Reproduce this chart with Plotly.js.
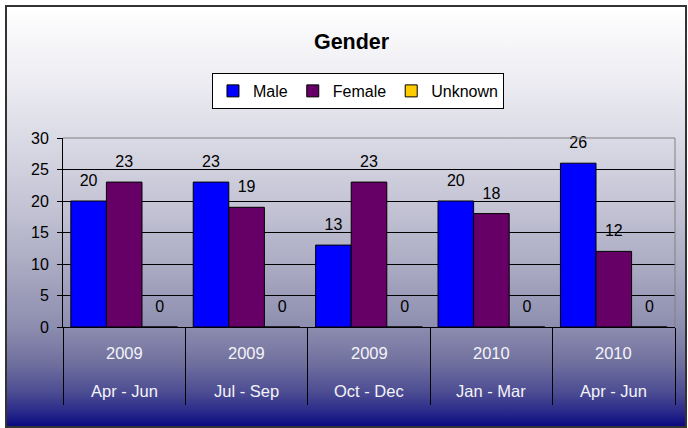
<!DOCTYPE html>
<html>
<head>
<meta charset="utf-8">
<script src="https://cdn.plot.ly/plotly-3.0.1.min.js"></script>
<style>
  html, body { margin: 0; padding: 0; background: #ffffff; }
  #wrap { position: relative; width: 688px; height: 428px; }
  #bg {
    position: absolute; left: 5px; top: 5px; width: 678px; height: 419px;
    border: 2px solid #333333;
    background: linear-gradient(to bottom, #ffffff 0%, #ececf2 18%, #d8d8e4 33%, #c0c0d2 50%, #a6a6c0 64%, #8e8eb0 76%, #70709f 85%, #4c4c93 92%, #26268a 97%, #0a0a80 100%);
  }
  #chart { position: absolute; left: 0; top: 0; width: 688px; height: 428px; }
</style>
</head>
<body>
<div id="wrap">
  <div id="bg"></div>
  <div id="chart"></div>
</div>
<script>
// ---- data ----
const years    = ["2009", "2009", "2009", "2010", "2010"];
const quarters = ["Apr - Jun", "Jul - Sep", "Oct - Dec", "Jan - Mar", "Apr - Jun"];
const male     = [20, 23, 13, 20, 26];
const female   = [23, 19, 23, 18, 12];
const unknown  = [0, 0, 0, 0, 0];
const yTicks   = [0, 5, 10, 15, 20, 25, 30];

// ---- build ----
const cats = years.map((y, i) => y + " " + quarters[i] + " #" + i);
const font = "Arial, 'Liberation Sans', sans-serif";
const GAP = 0.128;

function barTrace(name, vals, color) {
  return {
    type: "bar", name: name, x: cats, y: vals,
    marker: { color: color, line: { color: "#000000", width: 1 } },
    cliponaxis: false, hoverinfo: "skip"
  };
}
function labelTrace(name, vals) {
  return {
    type: "scatter", mode: "markers+text", name: name + " labels", x: cats, y: vals,
    text: vals.map(String), textposition: "top center",
    textfont: { family: font, size: 16, color: "#000000" },
    marker: { size: 16, color: "rgba(0,0,0,0)" },
    showlegend: false, cliponaxis: false, hoverinfo: "skip"
  };
}

const data = [
  barTrace("Male", male, "#0000FF"),
  barTrace("Female", female, "#660066"),
  barTrace("Unknown", unknown, "#FFCC00"),
  labelTrace("Male", male),
  labelTrace("Female", female),
  labelTrace("Unknown", unknown)
];

const annotations = [];
cats.forEach((c, i) => {
  annotations.push({ x: c, xref: "x", y: -0.137, yref: "paper", text: years[i], showarrow: false,
    yanchor: "middle", font: { family: font, size: 16.5, color: "#f4f4f8" } });
  annotations.push({ x: c, xref: "x", y: -0.338, yref: "paper", text: quarters[i], showarrow: false,
    yanchor: "middle", font: { family: font, size: 16.5, color: "#f4f4f8" } });
});

const layout = {
  width: 688, height: 428,
  margin: { l: 63, r: 13, t: 138, b: 101, pad: 0 },
  paper_bgcolor: "rgba(0,0,0,0)",
  plot_bgcolor: "rgba(0,0,0,0)",
  title: { text: "<b>Gender</b>", x: 0.511, xref: "container", y: 0.903, yref: "container",
    yanchor: "middle", font: { family: font, size: 21.5, color: "#000000" } },
  barmode: "group", bargap: GAP, bargroupgap: 0,
  scattermode: "group", scattergap: GAP,
  showlegend: true,
  legend: { orientation: "h", x: 0.482, xanchor: "center", y: 1.344, yanchor: "top",
    bgcolor: "#ffffff", bordercolor: "#000000", borderwidth: 1,
    font: { family: font, size: 16, color: "#000000" }, itemwidth: 30, itemclick: false },
  xaxis: {
    type: "category", showticklabels: false,
    ticks: "outside", tickson: "boundaries", ticklen: 77, tickcolor: "#000000", tickwidth: 1,
    showline: true, linecolor: "#000000", linewidth: 1, showgrid: false, zeroline: false,
    fixedrange: true
  },
  yaxis: {
    range: [0, 30], tickvals: yTicks, ticktext: yTicks.map(String),
    ticks: "outside", ticklen: 5, tickcolor: "#000000", ticklabelstandoff: 5,
    showline: true, linecolor: "#000000", linewidth: 1,
    showgrid: true, gridcolor: "#000000", gridwidth: 1, zeroline: false,
    tickfont: { family: font, size: 16, color: "#000000" }, fixedrange: true
  },
  shapes: [
    { type: "line", xref: "paper", yref: "paper", x0: 0, x1: 1, y0: 1, y1: 1, line: { color: "#808080", width: 1 } },
    { type: "line", xref: "paper", yref: "paper", x0: 1, x1: 1, y0: 0, y1: 1, line: { color: "#808080", width: 1 } }
  ],
  annotations: annotations
};

Plotly.newPlot("chart", data, layout, { displayModeBar: false, staticPlot: true });
</script>
</body>
</html>
